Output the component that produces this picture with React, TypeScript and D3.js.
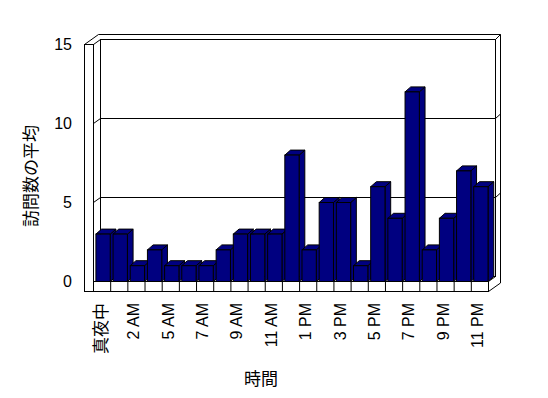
import React from "react";
import * as d3 from "d3";

// hours shown on the x axis (3 AM has no data in the source)
const categories = [
  "真夜中", "1 AM", "2 AM", "4 AM", "5 AM", "6 AM", "7 AM", "8 AM", "9 AM", "10 AM", "11 AM", "12 PM",
  "1 PM", "2 PM", "3 PM", "4 PM", "5 PM", "6 PM", "7 PM", "8 PM", "9 PM", "10 PM", "11 PM",
];
const visits = [3, 3, 1, 2, 1, 1, 1, 2, 3, 3, 3, 8, 2, 5, 5, 1, 6, 4, 12, 2, 4, 7, 6];
const yTicks = [0, 5, 10, 15];
const gridValues = [5, 10];

const W = 548;
const H = 398;

export default function App() {
  // front plane of the 3d box
  const left = 93.5;
  const right = 488.5;
  const wallOuter = 84.5;
  const floorBottom = 291.5;
  const dx = 7; // wall depth
  const dy = -5;
  const barDx = 5.7;
  const barDy = -5;

  const x = d3.scaleBand<string>().domain(categories).range([left, right]);
  const y = d3.scaleLinear().domain([0, 15]).range([281.5, 44.5]);
  const step = x.step();
  const y0 = y(0);
  const yTop = y(15);

  const font = "'Liberation Sans', Arial, sans-serif";
  const jp = "'Noto Sans CJK JP', sans-serif";

  return (
    <svg
      width={W}
      height={H}
      style={{ position: "fixed", left: 0, top: 0, background: "#fff" }}
    >
      <g stroke="#000" strokeWidth={1} fill="none">
        {/* back wall inner face */}
        <rect x={left + dx} y={yTop + dy} width={right - left} height={y0 - yTop} fill="#fff" />
        {/* outer silhouette of the walls */}
        <polyline
          points={`${wallOuter},${yTop} 98.5,34.5 500.5,34.5 500.5,283 ${right},${floorBottom}`}
        />
        <line x1={right + dx} y1={yTop + dy} x2={500.5} y2={34.5} />
        <line x1={left} y1={yTop} x2={left + dx} y2={yTop + dy} />
        {/* gridlines across left wall and back wall */}
        {gridValues.map(v => {
          const yy = y(v);
          return (
            <polyline
              key={v}
              points={`${wallOuter},${yy} ${left},${yy} ${left + dx},${yy + dy} ${right + dx},${yy + dy} 500.5,${yy + dy - 4.5}`}
            />
          );
        })}
        {/* left wall front face */}
        <rect x={wallOuter} y={yTop} width={left - wallOuter} height={floorBottom - yTop} fill="#fff" />
        {/* floor */}
        <line x1={right} y1={y0} x2={right + dx} y2={y0 + dy} />
        <rect x={left} y={y0} width={right - left} height={floorBottom - y0} fill="#fff" />
        {categories.slice(1).map((c, i) => (
          <line key={c} x1={x(c)!} y1={y0} x2={x(c)!} y2={floorBottom} />
        ))}
      </g>

      {/* bars */}
      <g stroke="#000" strokeWidth={1} fill="#000080" strokeLinejoin="miter">
        {visits.map((v, i) => {
          const bx = x(categories[i])! + step * 0.14;
          const bw = step * 0.833;
          const by = y(v);
          return (
            <g key={i}>
              <polygon
                points={`${bx + bw},${by} ${bx + bw + barDx},${by + barDy} ${bx + bw + barDx},${y0 + barDy} ${bx + bw},${y0}`}
              />
              <polygon
                points={`${bx},${by} ${bx + barDx},${by + barDy} ${bx + bw + barDx},${by + barDy} ${bx + bw},${by}`}
              />
              <rect x={bx} y={by} width={bw} height={y0 - by} />
            </g>
          );
        })}
      </g>

      {/* y tick labels */}
      {yTicks.map(t => (
        <text
          key={t}
          x={72}
          y={y(t)}
          textAnchor="end"
          dominantBaseline="central"
          fontFamily={font}
          fontSize={16}
        >
          {t}
        </text>
      ))}

      {/* x tick labels, every other hour */}
      {categories.map((c, i) =>
        i % 2 === 0 ? (
          <text
            key={c}
            transform={`translate(${x(c)! + step / 2 - 2.5},303) rotate(-90)`}
            textAnchor="end"
            dominantBaseline="central"
            fontFamily={i === 0 ? jp : font}
            fontSize={i === 0 ? 17 : 16}
          >
            {c}
          </text>
        ) : null
      )}

      {/* axis titles */}
      <text
        transform="translate(29,176) rotate(-90)"
        textAnchor="middle"
        dominantBaseline="central"
        fontFamily={jp}
        fontSize={17}
      >
        訪問数の平均
      </text>
      <text x={261} y={377} textAnchor="middle" dominantBaseline="central" fontFamily={jp} fontSize={17}>
        時間
      </text>
    </svg>
  );
}
